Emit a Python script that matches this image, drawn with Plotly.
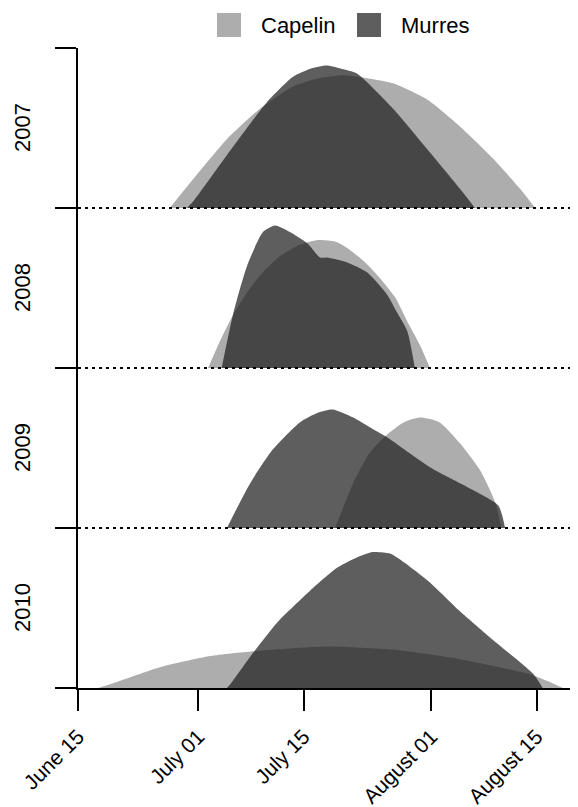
import plotly.graph_objects as go

# ---- data (days since June 15, relative density as fraction of row height) ----
years = ["2007", "2008", "2009", "2010"]

cap_2007_day = [12.2, 15.3, 19.8, 24.2, 28.6, 31.9, 35.3, 38.6, 41.9, 46.4, 50.8, 55.2, 58.8, 60.8]
cap_2007_den = [0, 0.18, 0.43, 0.62, 0.76, 0.81, 0.83, 0.81, 0.78, 0.68, 0.51, 0.31, 0.12, 0]
mur_2007_day = [14.5, 15.3, 19.8, 25.1, 28.6, 30.9, 33.1, 35.0, 37.1, 41.9, 46.4, 50.8, 52.8]
mur_2007_den = [0, 0.04, 0.33, 0.66, 0.82, 0.87, 0.89, 0.87, 0.84, 0.62, 0.37, 0.12, 0]

cap_2008_day = [17.3, 18.9, 20.6, 22.6, 24.6, 26.9, 29.5, 31.9, 34.2, 35.8, 38.2, 40.2, 42.2, 43.8, 45.5, 46.8]
cap_2008_den = [0, 0.17, 0.33, 0.48, 0.60, 0.70, 0.77, 0.80, 0.79, 0.75, 0.66, 0.56, 0.44, 0.29, 0.14, 0]
mur_2008_day = [19.1, 20.6, 22.5, 24.6, 26.2, 27.8, 30.5, 32.2, 33.1, 35.8, 38.4, 41.1, 42.4, 43.8, 44.8]
mur_2008_den = [0, 0.33, 0.64, 0.85, 0.89, 0.86, 0.78, 0.69, 0.69, 0.66, 0.60, 0.46, 0.35, 0.23, 0]

cap_2009_day = [34.2, 36.6, 38.8, 41.0, 43.3, 45.5, 48.1, 50.8, 53.5, 55.5, 56.3]
cap_2009_den = [0, 0.28, 0.47, 0.58, 0.66, 0.69, 0.66, 0.53, 0.36, 0.16, 0]
mur_2009_day = [19.8, 22.9, 25.9, 29.5, 31.9, 33.9, 36.6, 38.8, 41.0, 46.8, 51.2, 55.9, 56.8]
mur_2009_den = [0, 0.28, 0.49, 0.66, 0.72, 0.74, 0.69, 0.63, 0.57, 0.38, 0.27, 0.14, 0]

cap_2010_day = [2.7, 6.5, 10.9, 17.6, 23.3, 33.1, 41.9, 50.8, 60.5, 64.5]
cap_2010_den = [0, 0.06, 0.13, 0.20, 0.23, 0.26, 0.24, 0.18, 0.08, 0]
mur_2010_day = [19.8, 20.2, 23.3, 26.5, 30.9, 34.4, 36.8, 39.2, 41.5, 44.1, 46.8, 50.8, 55.2, 60.5, 61.8]
mur_2010_den = [0, 0.02, 0.22, 0.41, 0.61, 0.75, 0.81, 0.85, 0.84, 0.76, 0.66, 0.48, 0.30, 0.09, 0]

tick_days = [0, 16, 30, 47, 61]
tick_labels = ["June 15", "July 01", "July 15", "August 01", "August 15"]

CAP_COLOR = "#adadad"
MUR_COLOR = "rgba(25,25,25,0.7)"
FONT = "Liberation Sans, Arial, sans-serif"

rows = [
    (cap_2007_day, cap_2007_den, mur_2007_day, mur_2007_den),
    (cap_2008_day, cap_2008_den, mur_2008_day, mur_2008_den),
    (cap_2009_day, cap_2009_den, mur_2009_day, mur_2009_den),
    (cap_2010_day, cap_2010_den, mur_2010_day, mur_2010_den),
]

fig = go.Figure()
n = len(rows)
for i, (cd, cv, md, mv) in enumerate(rows):
    base = n - 1 - i
    fig.add_trace(go.Scatter(
        x=cd, y=[base + v for v in cv], mode="lines", fill="toself",
        fillcolor=CAP_COLOR, line=dict(width=0, shape="spline", smoothing=0.6),
        name="Capelin", showlegend=False, hoverinfo="skip"))
    fig.add_trace(go.Scatter(
        x=md, y=[base + v for v in mv], mode="lines", fill="toself",
        fillcolor=MUR_COLOR, line=dict(width=0, shape="spline", smoothing=0.6),
        name="Murres", showlegend=False, hoverinfo="skip"))

X_MAX = 66.5
shapes = []
for b in range(1, n):
    shapes.append(dict(type="line", xref="x", yref="y", x0=0, x1=X_MAX, y0=b, y1=b,
                       line=dict(color="black", width=2, dash="3px,4px"), layer="above"))

# legend drawn manually (large squares); window-pixel -> paper helpers
def px2paper_x(px):
    return (px - 78) / 500.0

def px2paper_y(py):
    return (688 - py) / 640.0

shapes.append(dict(type="rect", xref="paper", yref="paper",
                   x0=px2paper_x(217), x1=px2paper_x(241), y0=px2paper_y(37), y1=px2paper_y(13),
                   fillcolor=CAP_COLOR, line=dict(width=0)))
shapes.append(dict(type="rect", xref="paper", yref="paper",
                   x0=px2paper_x(357), x1=px2paper_x(381), y0=px2paper_y(37), y1=px2paper_y(13),
                   fillcolor=MUR_COLOR, line=dict(width=0)))

annotations = [
    dict(text="Capelin", xref="paper", yref="paper", x=px2paper_x(259), y=px2paper_y(25),
         xanchor="left", yanchor="middle", showarrow=False, font=dict(size=22, color="black", family=FONT)),
    dict(text="Murres", xref="paper", yref="paper", x=px2paper_x(399), y=px2paper_y(25),
         xanchor="left", yanchor="middle", showarrow=False, font=dict(size=22, color="black", family=FONT)),
]
for i, yr in enumerate(years):
    annotations.append(dict(text=yr, xref="paper", yref="y", x=0, y=n - 1 - i + 0.5,
                            xshift=-56, xanchor="center", yanchor="middle", textangle=-90,
                            showarrow=False, font=dict(size=22, color="black", family=FONT)))

# page body has an 8px margin, so the figure is offset by 8px
fig.update_layout(
    width=570, height=799,
    margin=dict(l=70, r=0, t=40, b=119, pad=0, autoexpand=False),
    plot_bgcolor="white", paper_bgcolor="white",
    shapes=shapes, annotations=annotations,
    showlegend=False,
    font=dict(family=FONT, color="black"),
    xaxis=dict(range=[0, X_MAX], tickvals=tick_days, ticktext=tick_labels, tickangle=-45,
               ticks="outside", ticklen=21, tickwidth=2, tickcolor="black", automargin=False,
               ticklabelstandoff=5,
               showline=True, linewidth=2, linecolor="black", showgrid=False, zeroline=False,
               tickfont=dict(size=21, family=FONT, color="black")),
    yaxis=dict(range=[0, 4], tickvals=[0, 1, 2, 3, 4], showticklabels=False, automargin=False,
               ticks="outside", ticklen=21, tickwidth=2, tickcolor="black",
               showline=True, linewidth=2, linecolor="black", showgrid=False, zeroline=False),
)

fig.write_html("out.html")
